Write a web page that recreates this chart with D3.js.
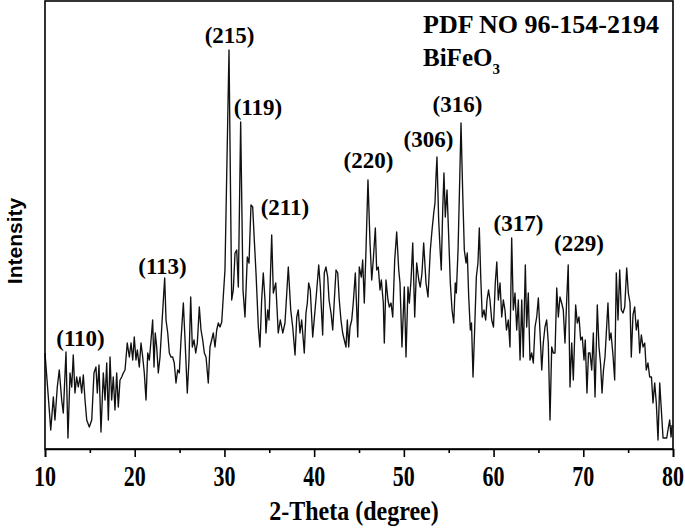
<!DOCTYPE html>
<html>
<head>
<meta charset="utf-8">
<script src="https://cdn.jsdelivr.net/npm/d3@7"></script>
<style>
  html, body { margin: 0; padding: 0; background: #fff; }
  svg { display: block; }
</style>
</head>
<body>
<script>
// ---- DATA ----
const twoTheta = [10.00,10.37,10.64,10.93,11.11,11.37,11.59,11.86,12.04,12.34,12.56,12.79,12.98,13.15,13.34,13.53,13.71,13.90,14.09,14.27,14.46,14.65,14.94,15.21,15.46,15.68,15.83,16.02,16.24,16.50,16.69,16.88,17.06,17.25,17.43,17.61,17.80,17.99,18.17,18.36,18.55,18.73,18.92,19.17,19.40,19.59,19.78,19.95,20.14,20.29,20.51,20.70,20.89,21.07,21.26,21.45,21.63,21.82,22.00,22.15,22.29,22.45,22.63,22.82,23.04,23.34,23.49,23.68,23.86,24.04,24.23,24.41,24.60,24.79,24.97,25.16,25.42,25.61,25.86,26.05,26.24,26.42,26.61,26.80,26.98,27.20,27.39,27.58,27.76,27.95,28.20,28.39,28.58,28.76,28.95,29.14,29.32,29.51,29.70,29.87,30.06,30.51,30.81,30.99,31.18,31.37,31.55,31.81,32.07,32.29,32.55,32.74,32.96,33.15,33.33,33.52,33.78,33.96,34.15,34.33,34.52,34.63,34.82,34.97,35.27,35.45,35.72,36.00,36.23,36.50,36.75,37.12,37.39,37.61,37.87,38.06,38.23,38.42,38.61,38.79,38.90,39.09,39.24,39.39,39.57,39.84,40.10,40.29,40.51,40.69,40.95,41.13,41.32,41.51,41.66,41.88,42.07,42.25,42.44,42.63,42.80,42.99,43.18,43.36,43.55,43.70,43.85,44.00,44.19,44.36,44.59,44.86,45.03,45.26,45.41,45.59,45.78,46.00,46.23,46.42,46.59,46.82,46.97,47.15,47.34,47.49,47.71,47.82,48.01,48.23,48.38,48.57,48.76,48.98,49.20,49.43,49.57,49.79,50.05,50.24,50.46,50.61,50.80,50.99,51.21,51.43,51.66,51.83,52.02,52.21,52.47,52.69,52.95,53.14,53.33,53.47,53.58,53.69,53.88,54.06,54.17,54.33,54.47,54.62,54.81,55.00,55.18,55.37,55.56,55.73,55.85,56.04,56.20,56.37,56.56,56.74,56.93,57.07,57.23,57.41,57.54,57.71,57.90,58.08,58.26,58.41,58.57,58.74,58.93,59.12,59.27,59.44,59.60,59.79,59.99,60.19,60.36,60.53,60.72,60.91,61.09,61.27,61.44,61.64,61.83,62.02,62.20,62.39,62.58,62.76,62.95,63.14,63.31,63.54,63.69,63.87,64.06,64.25,64.43,64.62,64.81,64.99,65.18,65.37,65.54,65.73,65.92,66.10,66.29,66.48,66.66,66.85,67.04,67.22,67.40,67.59,67.77,67.96,68.13,68.32,68.52,68.71,68.89,69.15,69.33,69.52,69.71,69.89,70.08,70.22,70.41,70.58,70.75,70.94,71.12,71.31,71.56,71.75,71.92,72.09,72.25,72.42,72.75,72.92,73.09,73.31,73.50,73.68,73.87,74.06,74.24,74.43,74.62,74.84,75.02,75.21,75.35,75.54,75.73,75.91,76.10,76.29,76.47,76.66,76.85,77.02,77.21,77.40,77.60,77.77,77.96,78.14,78.33,78.52,78.70,78.89,79.11,79.30,79.44,79.63,79.78,79.89];
const intensity = [96,52,19,52,29,62,79,49,36,97,11,76,62,94,56,72,62,72,56,74,49,29,22,29,76,82,56,84,17,76,49,86,29,92,49,72,39,76,42,69,72,76,79,106,92,106,89,112,89,99,82,106,92,76,49,96,89,109,129,82,116,102,76,92,126,171,129,116,96,92,92,86,66,79,76,109,146,109,56,89,152,102,109,96,106,142,119,109,96,92,66,102,109,116,102,119,126,122,127,152,179,399,149,159,196,199,162,327,159,132,192,186,244,242,209,176,122,102,149,176,149,116,139,129,214,156,166,116,129,116,126,182,139,122,94,132,139,116,129,109,96,136,146,166,159,112,139,159,184,162,114,176,182,172,149,136,119,149,179,176,149,129,116,109,102,129,102,122,129,146,176,112,182,172,189,146,199,269,206,169,189,221,179,182,159,169,146,106,169,149,142,146,132,189,217,179,166,102,162,92,162,146,169,206,132,186,169,162,176,206,166,152,199,219,236,246,272,292,229,196,179,239,276,232,259,212,166,139,126,166,156,199,259,326,256,199,186,196,152,119,126,72,122,172,186,221,172,132,139,129,149,159,149,129,122,166,187,149,166,132,149,139,119,129,102,211,139,156,119,149,89,149,92,184,122,156,89,96,86,122,132,151,116,79,106,122,129,106,29,102,96,96,161,132,152,146,139,106,144,184,62,106,69,144,126,132,109,112,89,109,56,96,96,79,116,52,144,102,86,56,79,92,146,109,116,94,69,176,129,179,139,136,142,181,156,146,92,134,142,119,129,96,114,102,106,79,86,72,72,46,66,46,9,66,39,11,11,11,19,29,12,24];

const xTicks = [10, 20, 30, 40, 50, 60, 70, 80];
const xMinorTicks = [15, 25, 35, 45, 55, 65, 75];

const peakLabels = ["(110)","(113)","(215)","(119)","(211)","(220)","(306)","(316)","(317)","(229)"];
const peakLabelTheta = [13.96, 23.10, 30.57, 33.74, 36.75, 46.06, 52.75, 55.98, 62.78, 69.52];
const peakLabelLevel = [103, 175, 406, 334, 234, 281, 302, 337, 218, 198];

const xTitle = "2-Theta (degree)";
const yTitle = "Intensity";
const pdfText = "PDF NO 96-154-2194";

// ---- CHART ----
const W = 685, H = 532;
const m = { left: 45, right: 12, top: 1, bottom: 83 };
const svg = d3.select("body").append("svg").attr("width", W).attr("height", H);

const x = d3.scaleLinear().domain([10, 80]).range([m.left, W - m.right]);
const y = d3.scaleLinear().domain([0, 448]).range([H - m.bottom, m.top]);

const serif = "'Liberation Serif', 'Times New Roman', serif";

// Line
const pts = twoTheta.map((t, i) => [t, intensity[i]]);
svg.append("path")
  .datum(pts)
  .attr("fill", "none")
  .attr("stroke", "#111")
  .attr("stroke-width", 1.35)
  .attr("stroke-linejoin", "round")
  .attr("d", d3.line().x(d => x(d[0])).y(d => y(d[1])));

// Frame
svg.append("rect")
  .attr("x", x(10)).attr("y", y(448))
  .attr("width", x(80) - x(10)).attr("height", y(0) - y(448))
  .attr("fill", "none").attr("stroke", "#000").attr("stroke-width", 1.6);

// Bottom axis (ticks)
const gx = svg.append("g").attr("transform", `translate(0,${y(0)})`);
gx.call(d3.axisBottom(x).tickValues(xTicks).tickSize(8).tickFormat(""));
gx.select(".domain").attr("stroke-width", 1.6);
gx.selectAll(".tick line").attr("stroke-width", 1.6);
const gxm = svg.append("g").attr("transform", `translate(0,${y(0)})`);
gxm.call(d3.axisBottom(x).tickValues(xMinorTicks).tickSize(4).tickFormat(""));
gxm.select(".domain").remove();
gxm.selectAll(".tick line").attr("stroke-width", 1.6);

// Tick labels (tall, condensed look as in the reference)
svg.append("g").selectAll("text")
  .data(xTicks)
  .join("text")
  .attr("transform", d => `translate(${x(d)},${y(0) + 37}) scale(1,1.3)`)
  .attr("text-anchor", "middle")
  .attr("font-family", serif).attr("font-weight", "bold").attr("font-size", 22)
  .text(d => d);

// Axis titles
svg.append("text")
  .attr("transform", `translate(${(x(10) + x(80)) / 2 - 5},520) scale(1,1.15)`)
  .attr("text-anchor", "middle")
  .attr("font-family", serif).attr("font-weight", "bold").attr("font-size", 24)
  .text(xTitle);

svg.append("text")
  .attr("transform", `translate(22,241) rotate(-90)`)
  .attr("text-anchor", "middle")
  .attr("font-family", "'Liberation Sans', Arial, sans-serif").attr("font-weight", "bold").attr("font-size", 21)
  .text(yTitle);

// Peak labels
svg.append("g").selectAll("text")
  .data(peakLabels)
  .join("text")
  .attr("x", (d, i) => x(peakLabelTheta[i]))
  .attr("y", (d, i) => y(peakLabelLevel[i]))
  .attr("text-anchor", "middle")
  .attr("font-family", serif).attr("font-weight", "bold").attr("font-size", 23)
  .text(d => d);

// Legend text
svg.append("text")
  .attr("x", 423).attr("y", 33)
  .attr("font-family", serif).attr("font-weight", "bold").attr("font-size", 26)
  .text(pdfText);
const bf = svg.append("text")
  .attr("x", 423).attr("y", 66)
  .attr("font-family", serif).attr("font-weight", "bold").attr("font-size", 25);
bf.append("tspan").text("BiFeO");
bf.append("tspan").attr("font-size", 15).attr("dy", 8).text("3");
</script>
</body>
</html>
